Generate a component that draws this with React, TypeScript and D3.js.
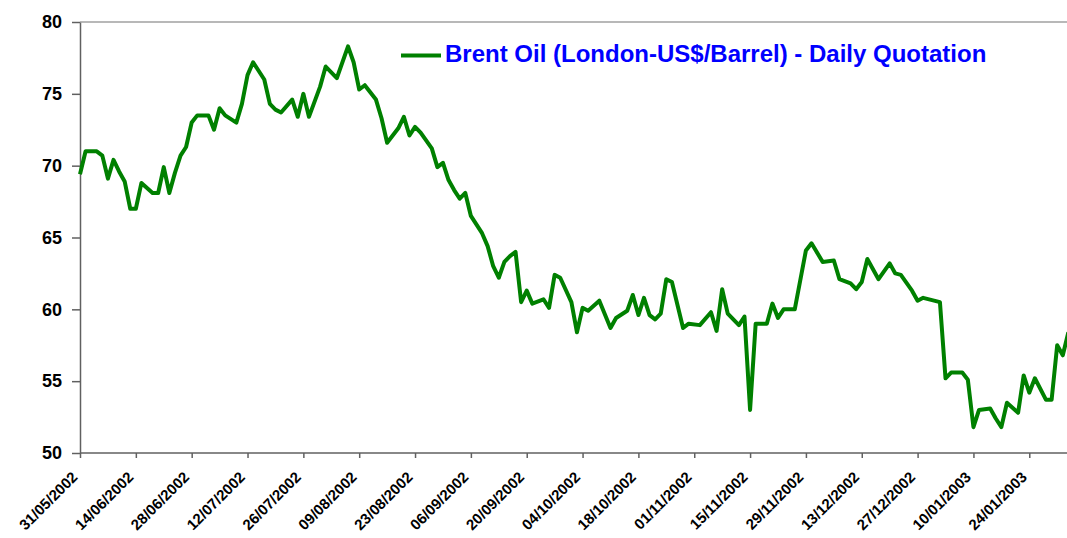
import { useEffect, useRef } from "react";
import * as d3 from "d3";

// business-day index counted from 31/05/2002
const days = [
  0, 1, 3, 4, 5, 6, 7, 8, 9, 10, 11, 13, 14, 15, 16, 17, 18, 19, 20, 21,
  23, 24, 25, 26, 28, 29, 30, 31, 33, 34, 35, 36, 38, 39, 40, 41, 43, 44, 46, 48,
  49, 50, 51, 53, 54, 55, 57, 58, 59, 60, 61, 63, 64, 65, 66, 67, 68, 69, 70, 72,
  73, 74, 75, 76, 77, 78, 79, 80, 81, 83, 84, 85, 86, 88, 89, 90, 91, 93, 95, 96,
  98, 99, 100, 101, 102, 103, 104, 105, 106, 108, 109, 111, 113, 114, 115, 116, 118, 119, 120, 121,
  123, 124, 125, 126, 128, 130, 131, 133, 135, 136, 138, 139, 140, 141, 143, 145, 146, 147, 149, 150,
  151, 154, 155, 156, 158, 159, 160, 161, 163, 164, 165, 166, 168, 169, 170, 171, 173, 174, 175, 176,
  177,
];

// Brent, US$/barrel
const prices = [
  69.4, 71.0, 71.0, 70.7, 69.1, 70.4, 69.6, 68.9, 67.0, 67.0, 68.8, 68.1, 68.1, 69.9, 68.1, 69.5, 70.7, 71.3, 73.0, 73.5,
  73.5, 72.5, 74.0, 73.5, 73.0, 74.3, 76.3, 77.2, 76.0, 74.3, 73.9, 73.7, 74.6, 73.4, 75.0, 73.4, 75.5, 76.9, 76.1, 78.3,
  77.2, 75.3, 75.6, 74.6, 73.3, 71.6, 72.6, 73.4, 72.1, 72.7, 72.3, 71.2, 69.9, 70.2, 69.0, 68.3, 67.7, 68.1, 66.5, 65.3,
  64.4, 63.0, 62.2, 63.3, 63.7, 64.0, 60.5, 61.3, 60.4, 60.7, 60.1, 62.4, 62.2, 60.5, 58.4, 60.1, 59.9, 60.6, 58.7, 59.4,
  59.9, 61.0, 59.6, 60.8, 59.6, 59.3, 59.7, 62.1, 61.9, 58.7, 59.0, 58.9, 59.8, 58.5, 61.4, 59.7, 58.9, 59.5, 53.0, 59.0,
  59.0, 60.4, 59.4, 60.0, 60.0, 64.1, 64.6, 63.3, 63.4, 62.1, 61.8, 61.4, 61.9, 63.5, 62.1, 63.2, 62.5, 62.4, 61.3, 60.6,
  60.8, 60.5, 55.2, 55.6, 55.6, 55.1, 51.8, 53.0, 53.1, 52.4, 51.8, 53.5, 52.8, 55.4, 54.2, 55.2, 53.7, 53.7, 57.5, 56.8,
  58.4,
];

const tickLabels = [
  "31/05/2002", "14/06/2002", "28/06/2002", "12/07/2002", "26/07/2002", "09/08/2002",
  "23/08/2002", "06/09/2002", "20/09/2002", "04/10/2002", "18/10/2002", "01/11/2002",
  "15/11/2002", "29/11/2002", "13/12/2002", "27/12/2002", "10/01/2003", "24/01/2003",
];

const yTicks = [50, 55, 60, 65, 70, 75, 80];

const W = 1067;
const H = 538;
const left = 80;
const top = 22;
const bottom = 453;
const step = 5.584; // px per business day

export default function App() {
  const ref = useRef<SVGSVGElement>(null);

  useEffect(() => {
    const svg = d3.select(ref.current);
    svg.selectAll("*").remove();

    const x = d3.scaleLinear().domain([0, 177]).range([left, left + 177 * step]);
    const y = d3.scaleLinear().domain([50, 80]).range([bottom, top]);

    // top frame line
    svg.append("line")
      .attr("x1", left).attr("x2", W)
      .attr("y1", top).attr("y2", top)
      .attr("stroke", "#a0a0a0").attr("stroke-width", 1.5);

    const yAxis = svg.append("g")
      .attr("transform", `translate(${left},0)`)
      .call(d3.axisLeft(y).tickValues(yTicks).tickSize(8).tickPadding(10).tickSizeOuter(0));
    yAxis.select(".domain").attr("stroke", "#606060").attr("stroke-width", 1.5);
    yAxis.selectAll(".tick line").attr("stroke", "#606060").attr("stroke-width", 1.5);
    yAxis.selectAll(".tick text")
      .attr("font-family", "'Liberation Sans', Arial, sans-serif")
      .attr("font-weight", "bold")
      .attr("font-size", 18)
      .attr("fill", "#000");

    const xAxis = svg.append("g")
      .attr("transform", `translate(0,${bottom})`)
      .call(
        d3.axisBottom(x)
          .tickValues(tickLabels.map((_, i) => i * 10))
          .tickFormat((d, i) => tickLabels[i])
          .tickSize(5)
          .tickSizeOuter(0)
      );
    xAxis.select(".domain").attr("d", `M${left},0H${W}`).attr("stroke", "#606060").attr("stroke-width", 1.5);
    xAxis.selectAll(".tick line").attr("stroke", "#606060").attr("stroke-width", 1.5);
    xAxis.selectAll(".tick text")
      .attr("font-family", "'Liberation Sans', Arial, sans-serif")
      .attr("font-weight", "bold")
      .attr("font-size", 15)
      .attr("fill", "#000")
      .attr("text-anchor", "end")
      .attr("y", 0)
      .attr("dy", 0)
      .attr("transform", "translate(-2,25) rotate(-45)");

    const line = d3.line<number>()
      .x((d, i) => x(days[i]))
      .y((d) => y(d));

    svg.append("path")
      .datum(prices)
      .attr("d", line)
      .attr("fill", "none")
      .attr("stroke", "#008000")
      .attr("stroke-width", 4)
      .attr("stroke-linejoin", "round");

    // legend
    svg.append("line")
      .attr("x1", 401).attr("x2", 441)
      .attr("y1", 55.5).attr("y2", 55.5)
      .attr("stroke", "#008000").attr("stroke-width", 4);
    svg.append("text")
      .attr("x", 445).attr("y", 62)
      .attr("font-family", "'Liberation Sans', Arial, sans-serif")
      .attr("font-weight", "bold")
      .attr("font-size", 24)
      .attr("fill", "#0000ff")
      .text("Brent Oil (London-US$/Barrel) - Daily Quotation");
  }, []);

  return (
    <svg
      ref={ref}
      width={W}
      height={H}
      style={{ position: "absolute", left: 0, top: 0, background: "#fff" }}
    />
  );
}
